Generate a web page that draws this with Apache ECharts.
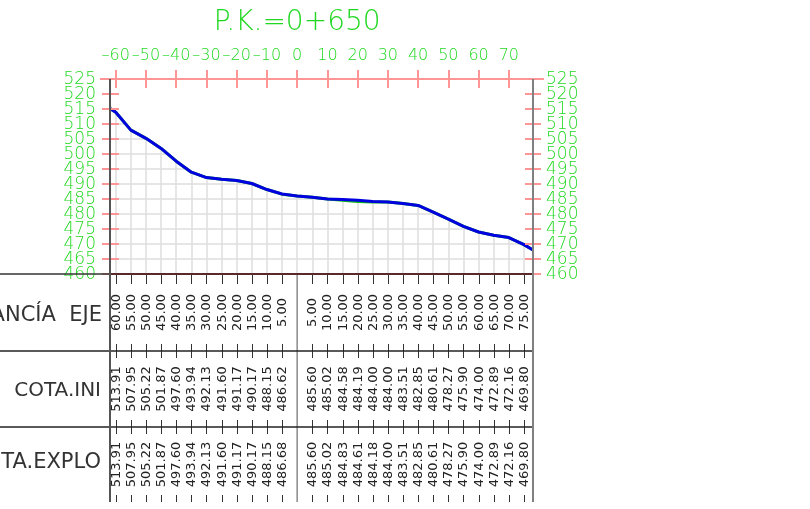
<!DOCTYPE html>
<html>
<head>
<meta charset="utf-8">
<script src="https://cdn.jsdelivr.net/npm/echarts@6/dist/echarts.min.js"></script>
<style>
html, body { margin: 0; padding: 0; background: #fff; }
#chart { width: 810px; height: 509px; }
</style>
</head>
<body>
<div id="chart"></div>
<script>
// estaciones (distancia al eje) y cotas de la tabla
const stations = [-60, -55, -50, -45, -40, -35, -30, -25, -20, -15, -10, -5, 5, 10, 15, 20, 25, 30, 35, 40, 45, 50, 55, 60, 65, 70, 75];
const cotaIni = [513.91, 507.95, 505.22, 501.87, 497.60, 493.94, 492.13, 491.60, 491.17, 490.17, 488.15, 486.62,
                 485.60, 485.02, 484.58, 484.19, 484.00, 484.00, 483.51, 482.85, 480.61, 478.27, 475.90, 474.00, 472.89, 472.16, 469.80];
const cotaExplo = [513.91, 507.95, 505.22, 501.87, 497.60, 493.94, 492.13, 491.60, 491.17, 490.17, 488.15, 486.68,
                   485.60, 485.02, 484.83, 484.61, 484.18, 484.00, 483.51, 482.85, 480.61, 478.27, 475.90, 474.00, 472.89, 472.16, 469.80];
// extremos del perfil y punto en el eje
const extraStations = [-61.9, 0, 78];
const extraCota = [515.2, 486.0, 468.0];
// etiquetas de distancia arriba, rejilla cada 5 m y cotas del eje vertical
const topTicks = [-60, -50, -40, -30, -20, -10, 0, 10, 20, 30, 40, 50, 60, 70];
const gridStations = [-60, -55, -50, -45, -40, -35, -30, -25, -20, -15, -10, -5, 0, 5, 10, 15, 20, 25, 30, 35, 40, 45, 50, 55, 60, 65, 70, 75];
const elevTicks = [460, 465, 470, 475, 480, 485, 490, 495, 500, 505, 510, 515, 520, 525];

const X_MIN = -61.9, X_MAX = 78;
const Y_MIN = 460, Y_MAX = 525;

const GREEN = '#22d822';
const PINK = '#ff9595';
const FONT = '"DejaVu Sans", sans-serif';

// layout
const G_LEFT = 110, G_TOP = 79, G_W = 423, G_H = 195;
const G_RIGHT = G_LEFT + G_W, G_BOTTOM = G_TOP + G_H;
const ROW1 = 351, ROW2 = 427, T_BOTTOM = 502;
const zeroX = G_LEFT + (0 - X_MIN) / (X_MAX - X_MIN) * G_W;

function profile(values) {
    const pts = stations.map((s, i) => [s, values[i]]);
    extraStations.forEach((s, i) => pts.push([s, extraCota[i]]));
    return pts.sort((a, b) => a[0] - b[0]);
}

const chart = echarts.init(document.getElementById('chart'));

const xBase = { type: 'value', min: X_MIN, max: X_MAX, gridIndex: 0 };
const yBase = { type: 'value', min: Y_MIN, max: Y_MAX, interval: 5, gridIndex: 0 };
const noLine = { show: false, onZero: false };
const negFmt = v => (v < 0 ? '\u2013' + (-v) : '' + v);

const option = {
    animation: false,
    backgroundColor: '#fff',
    grid: { left: G_LEFT, top: G_TOP, width: G_W, height: G_H, containLabel: false, outerBoundsMode: 'none' },
    xAxis: [
        { ...xBase, position: 'top', z: 5,
          axisLine: noLine,
          axisTick: { customValues: topTicks, length: 9, lineStyle: { color: PINK, width: 2 } },
          axisLabel: { customValues: topTicks, color: GREEN, fontSize: 16, fontFamily: FONT, fontWeight: 200,
                       lineHeight: 16, margin: 15, formatter: negFmt, showMinLabel: true, showMaxLabel: true },
          splitLine: { show: false } },
        { ...xBase, position: 'top', z: 5,
          axisLine: noLine,
          axisTick: { customValues: topTicks, inside: true, length: 9, lineStyle: { color: PINK, width: 2 } },
          axisLabel: { show: false },
          splitLine: { show: false } },
        { ...xBase, position: 'bottom', z: 0,
          axisLine: noLine,
          axisTick: { show: false, customValues: gridStations },
          axisLabel: { show: false },
          splitLine: { show: true, lineStyle: { color: '#dedede', width: 1.5 } } }
    ],
    yAxis: [
        { ...yBase, position: 'left', z: 5,
          axisLine: noLine,
          axisTick: { length: 8, lineStyle: { color: PINK, width: 2 } },
          axisLabel: { show: false },
          splitLine: { show: false } },
        { ...yBase, position: 'left', z: 5,
          axisLine: noLine,
          axisTick: { inside: true, length: 9, lineStyle: { color: PINK, width: 2 } },
          axisLabel: { show: false }, splitLine: { show: false } },
        { ...yBase, position: 'left', z: 0,
          axisLine: noLine, axisTick: { show: false }, axisLabel: { show: false },
          splitLine: { show: true, lineStyle: { color: '#dedede', width: 1.5 } } },
        { ...yBase, position: 'right', z: 5,
          axisLine: noLine,
          axisTick: { length: 8, lineStyle: { color: PINK, width: 2 } },
          axisLabel: { show: false },
          splitLine: { show: false } },
        { ...yBase, position: 'right', z: 5,
          axisLine: noLine,
          axisTick: { inside: true, length: 8, lineStyle: { color: PINK, width: 2 } },
          axisLabel: { show: false }, splitLine: { show: false } }
    ],
    series: [
        // tapa blanca sobre el terreno (la rejilla solo queda debajo del perfil)
        { type: 'line', name: 'tapa', data: profile(cotaExplo), symbol: 'none', z: 2, silent: true,
          lineStyle: { width: 0 }, areaStyle: { color: '#fff', opacity: 1, origin: 'end' } },
        { type: 'line', name: 'COTA.INI', data: profile(cotaIni), symbol: 'none', z: 3,
          lineStyle: { color: '#10c010', width: 3 } },
        { type: 'line', name: 'COTA.EXPLO', data: profile(cotaExplo), symbol: 'none', z: 4,
          lineStyle: { color: '#0000e0', width: 3 } },
        // cotas del eje vertical, a ambos lados (todas visibles, como en el plano)
        { type: 'custom', coordinateSystem: 'cartesian2d', xAxisIndex: 0, yAxisIndex: 0, z: 6, silent: true,
          data: elevTicks.map(v => [X_MIN, v]),
          renderItem: (params, api) => {
              const y = api.coord([X_MIN, api.value(1)])[1];
              const lab = (x, align) => ({ type: 'text', x: x, y: y + 1,
                  style: { text: String(api.value(1)), fill: GREEN, font: '200 17px ' + FONT, align: align, verticalAlign: 'middle' } });
              return { type: 'group', children: [lab(G_LEFT - 14, 'right'), lab(G_RIGHT + 13, 'left')] };
          } },
        // guitarra inferior
        { type: 'custom', coordinateSystem: 'cartesian2d', xAxisIndex: 0, yAxisIndex: 0, z: 6, silent: true,
          data: stations.map((s, i) => [s, cotaIni[i], cotaExplo[i]]),
          renderItem: (params, api) => {
              const x = Math.round(api.coord([api.value(0), Y_MIN])[0]) + 0.5;
              const txt = (t, y) => ({ type: 'text', x: x, y: y, rotation: Math.PI / 2,
                  style: { text: t, fill: '#222', font: '13px ' + FONT, align: 'center', verticalAlign: 'middle' } });
              const tick = (y1, y2) => ({ type: 'line', shape: { x1: x, y1: y1, x2: x, y2: y2 },
                  style: { stroke: '#333', lineWidth: 1 } });
              return { type: 'group', children: [
                  txt(Math.abs(api.value(0)).toFixed(2), (G_BOTTOM + ROW1) / 2),
                  txt(api.value(1).toFixed(2), (ROW1 + ROW2) / 2),
                  txt(api.value(2).toFixed(2), (ROW2 + T_BOTTOM) / 2),
                  tick(G_BOTTOM, G_BOTTOM + 10), tick(ROW1 - 7, ROW1 + 7), tick(ROW2 - 7, ROW2 + 7), tick(T_BOTTOM - 7, T_BOTTOM)
              ] };
          } }
    ],
    graphic: [
        { type: 'text', z: 10, x: zeroX, y: 23,
          style: { text: 'P.K.=0+650', fill: GREEN, font: '200 28px ' + FONT, align: 'center', verticalAlign: 'middle' } },
        { type: 'text', z: 10, x: 102, y: (G_BOTTOM + ROW1) / 2 + 3,
          style: { text: 'DISTANCÍA  EJE', fill: '#333', font: '21px ' + FONT, align: 'right', verticalAlign: 'middle' } },
        { type: 'text', z: 10, x: 101, y: (ROW1 + ROW2) / 2 + 2,
          style: { text: 'COTA.INI', fill: '#333', font: '20px ' + FONT, align: 'right', verticalAlign: 'middle' } },
        { type: 'text', z: 10, x: 101, y: (ROW2 + T_BOTTOM) / 2 - 2,
          style: { text: 'COTA.EXPLO', fill: '#333', font: '21px ' + FONT, align: 'right', verticalAlign: 'middle' } },
        // lineas del cuadro
        { type: 'line', z: 10, shape: { x1: 100, y1: G_TOP, x2: G_RIGHT + 11, y2: G_TOP }, style: { stroke: PINK, lineWidth: 2 } },
        { type: 'line', z: 11, shape: { x1: G_LEFT, y1: G_TOP, x2: G_LEFT, y2: T_BOTTOM }, style: { stroke: '#555', lineWidth: 2 } },
        { type: 'line', z: 11, shape: { x1: G_RIGHT, y1: G_TOP, x2: G_RIGHT, y2: T_BOTTOM }, style: { stroke: '#808080', lineWidth: 2 } },
        { type: 'line', z: 10, shape: { x1: zeroX, y1: G_BOTTOM, x2: zeroX, y2: T_BOTTOM }, style: { stroke: '#8a8a8a', lineWidth: 1.5 } },
        { type: 'line', z: 10, shape: { x1: 0, y1: G_BOTTOM, x2: G_LEFT, y2: G_BOTTOM }, style: { stroke: '#333', lineWidth: 1.5 } },
        { type: 'line', z: 10, shape: { x1: G_LEFT, y1: G_BOTTOM, x2: G_RIGHT, y2: G_BOTTOM }, style: { stroke: '#5a2a2a', lineWidth: 2 } },
        { type: 'line', z: 10, shape: { x1: 0, y1: ROW1, x2: G_RIGHT, y2: ROW1 }, style: { stroke: '#222', lineWidth: 1.5 } },
        { type: 'line', z: 10, shape: { x1: 0, y1: ROW2, x2: G_RIGHT, y2: ROW2 }, style: { stroke: '#222', lineWidth: 1.5 } }
    ]
};

chart.setOption(option);
</script>
</body>
</html>
